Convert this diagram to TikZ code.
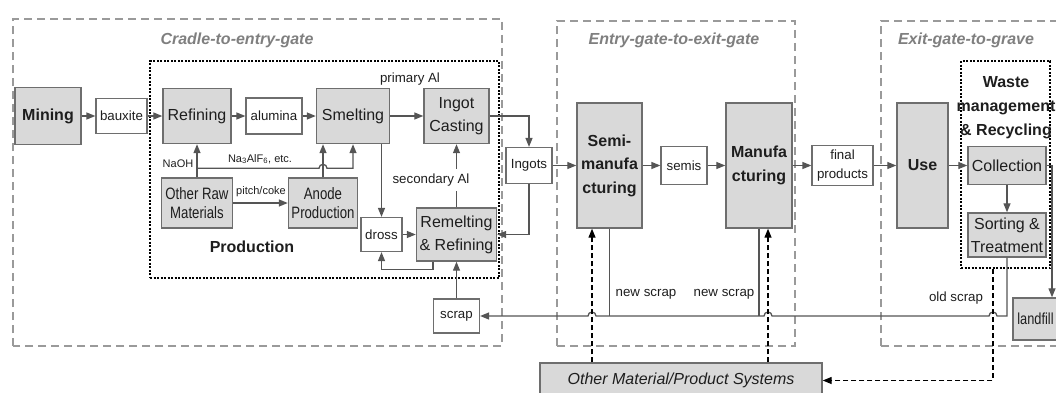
\documentclass[tikz,border=0pt]{standalone}
\usepackage{fontspec}
\setmainfont{Liberation Sans}
\newfontfamily\narrowfont[FakeStretch=0.8]{Liberation Sans}
\usetikzlibrary{arrows.meta}

\definecolor{boxline}{HTML}{6E6E6E}
\definecolor{boxfill}{HTML}{D9D9D9}
\definecolor{gateline}{HTML}{9A9A9A}
\definecolor{linecol}{HTML}{555555}
\definecolor{txt}{HTML}{1E1E1E}
\definecolor{gatetxt}{HTML}{7F7F7F}

\tikzset{
    proc/.style={draw=boxline, fill=boxfill, line width=1.4pt, inner sep=0pt, align=center,
        text=txt, font=\fontsize{16}{23}\selectfont},
    flow/.style={draw=boxline, fill=white, line width=1.2pt, inner sep=0pt, align=center,
        text=txt, font=\fontsize{13.3}{19.5}\selectfont},
    lbl/.style={inner sep=1pt, text=txt, font=\fontsize{13.3}{16}\selectfont},
    tiny/.style={inner sep=1pt, text=txt, font=\fontsize{11}{13}\selectfont},
    gate/.style={draw=gateline, line width=2pt, dash pattern=on 8pt off 5pt},
    gatetitle/.style={text=gatetxt, font=\fontsize{16}{19}\bfseries\itshape\selectfont},
    group/.style={draw=black, line width=2.5pt, dash pattern=on 2pt off 1.5pt},
    arr/.style={draw=linecol, line width=1.3pt, -{Triangle[length=9pt,width=7pt]}},
    dasharr/.style={arr, draw=black, dash pattern=on 5pt off 3pt}
}

\begin{document}
\begin{tikzpicture}[x=1pt,y=1pt]
    \useasboundingbox (0,0) rectangle (1056,392);

    % life cycle stages
    \draw[gate] (13,46) rectangle (502,373);
    \draw[gate] (557,46) rectangle (795,371);
    \draw[gate] (881,46) rectangle (1080,371);
    \node[gatetitle] (t1) at (237,352) {Cradle-to-entry-gate};
    \node[gatetitle] (t2) at (674,352) {Entry-gate-to-exit-gate};
    \node[gatetitle] (t3) at (966,352) {Exit-gate-to-grave};

    \node[group, minimum width=349, minimum height=217] (prodgroup) at (324.5,222.5) {};
    \node[group, minimum width=89, minimum height=207] (wastegroup) at (1005.5,227.5) {};
    \node[text=txt, font=\fontsize{16}{19}\bfseries\selectfont] (prodlbl) at (252,145) {Production};
    \node[text=txt, align=center, font=\fontsize{16}{24}\bfseries\selectfont] (wastelbl) at (1006,284.5)
        {Waste\\management\\\& Recycling};

    % processes and flows
    \node[proc, minimum width=66, minimum height=57, font=\fontsize{16}{23}\bfseries\selectfont] (mining) at (48,276) {Mining};
    \node[flow, minimum width=51, minimum height=35] (bauxite) at (121.5,276) {bauxite};
    \node[proc, minimum width=68, minimum height=55] (refining) at (197,276) {Refining};
    \node[flow, minimum width=56, minimum height=36] (alumina) at (274,276) {alumina};
    \node[proc, minimum width=73, minimum height=55] (smelting) at (353,276) {Smelting};
    \node[proc, minimum width=65, minimum height=55] (casting) at (456.5,276) {Ingot\\Casting};
    \node[proc, minimum width=71, minimum height=50, font=\narrowfont\fontsize{16.5}{19}\selectfont] (rawmat) at (197,189) {Other Raw\\Materials};
    \node[proc, minimum width=69, minimum height=50, font=\narrowfont\fontsize{16.5}{19}\selectfont] (anode) at (323,189) {Anode\\Production};
    \node[flow, minimum width=41, minimum height=34] (dross) at (381.5,157.5) {dross};
    \node[proc, minimum width=80, minimum height=53] (remelt) at (456.5,157.5) {Remelting\\\& Refining};
    \node[flow, minimum width=46, minimum height=34] (scrap) at (456.5,76) {scrap};
    \node[flow, minimum width=46, minimum height=36] (ingots) at (529,226.5) {Ingots};
    \node[proc, minimum width=65, minimum height=125, font=\fontsize{16}{23.5}\bfseries\selectfont] (semi) at (609.5,226.5) {Semi-\\manufa\\cturing};
    \node[flow, minimum width=46, minimum height=38] (semis) at (684,226.5) {semis};
    \node[proc, minimum width=66, minimum height=125, font=\fontsize{16}{23.5}\bfseries\selectfont] (manuf) at (759,226.5) {Manufa\\cturing};
    \node[flow, minimum width=61, minimum height=40] (final) at (842.5,226.5) {final\\products};
    \node[proc, minimum width=51, minimum height=125, font=\fontsize{16}{23}\bfseries\selectfont] (use) at (922.5,226.5) {Use};
    \node[proc, minimum width=78, minimum height=38] (collect) at (1007,226.5) {Collection};
    \node[proc, minimum width=78, minimum height=44] (sorting) at (1007,157) {Sorting \&\\Treatment};
    \node[proc, minimum width=45, minimum height=42, font=\narrowfont\fontsize{16}{19}\selectfont] (landfill) at (1035.5,73) {landfill};
    \node[proc, minimum width=282, minimum height=35, font=\fontsize{16}{19}\itshape\selectfont] (othersys) at (681,11.5) {Other Material/Product Systems};

    \coordinate (jsemi) at ([xshift=-17.5pt]semi.south);
    \coordinate (jmanuf) at ([xshift=9pt]manuf.south);
    \coordinate (jwaste) at ([xshift=-12.5pt]wastegroup.south);

    % main chain
    \draw[arr] (mining) -- (bauxite);
    \draw[arr] (bauxite) -- (refining);
    \draw[arr] (refining) -- (alumina);
    \draw[arr] (alumina) -- (smelting);
    \draw[arr] (smelting) -- (casting);
    \draw[arr] (casting.east) -| (ingots.north);
    \draw[arr] (ingots) -- (semi);
    \draw[arr] (semi) -- (semis);
    \draw[arr] (semis) -- (manuf);
    \draw[arr] (manuf) -- (final);
    \draw[arr] (final) -- (use);
    \draw[arr] (use) -- (collect);
    \draw[arr] (collect) -- (sorting);
    \draw[arr] (collect.east) -| ([xshift=16.5pt]landfill.north);

    % raw materials
    \draw[arr] (rawmat) -- (refining);
    \draw[arr] (rawmat) -- (anode);
    \draw[arr] (anode.north) -- (anode.north |- smelting.south);
    \draw[arr] ([yshift=9pt]rawmat.north) -- ([xshift=-4pt,yshift=9pt]anode.north)
        arc[start angle=180, end angle=0, radius=4pt] -| (smelting.south);

    % secondary route
    \draw[arr] (dross.north |- smelting.south) -- (dross.north);
    \draw[arr] (dross) -- (remelt);
    \draw[arr] ([xshift=-23.5pt]remelt.south) -- ++(0,-8) -| (dross.south);
    \draw[arr] (remelt) -- (casting);
    \draw[arr] (ingots.south) |- (remelt.east);
    \draw[arr] (scrap) -- (remelt);

    % scrap return
    \draw[arr, -] (semi.south) -- (semi.south |- scrap.east);
    \draw[arr, -] (manuf.south) -- (manuf.south |- scrap.east);
    \draw[arr] (sorting.south) -- (sorting.south |- scrap.east)
        -- ([xshift=4pt]jwaste |- scrap.east) arc[start angle=0, end angle=180, radius=4pt]
        -- ([xshift=4pt]jmanuf |- scrap.east) arc[start angle=0, end angle=180, radius=4pt]
        -- ([xshift=4pt]jsemi |- scrap.east) arc[start angle=0, end angle=180, radius=4pt]
        -- (scrap.east);

    % other systems
    \draw[dasharr] (othersys.north -| jsemi) -- (jsemi);
    \draw[dasharr] (othersys.north -| jmanuf) -- (jmanuf);
    \draw[dasharr] (jwaste) |- (othersys.east);

    % labels
    \node[lbl] (primlbl) at (410,313) {primary Al};
    \node[lbl, fill=white, inner ysep=5pt] (seclbl) at (431,212) {secondary Al};
    \node[tiny] (naohlbl) at (178,228) {NaOH};
    \node[tiny] (cryolbl) at (260,233) {Na\textsubscript{3}AlF\textsubscript{6}, etc.};
    \node[tiny] (pitchlbl) at (261,200) {pitch/coke};
    \node[lbl] (newlbl1) at (646,98) {new scrap};
    \node[lbl] (newlbl2) at (724,98) {new scrap};
    \node[lbl] (oldlbl) at (956,94) {old scrap};
\end{tikzpicture}
\end{document}
